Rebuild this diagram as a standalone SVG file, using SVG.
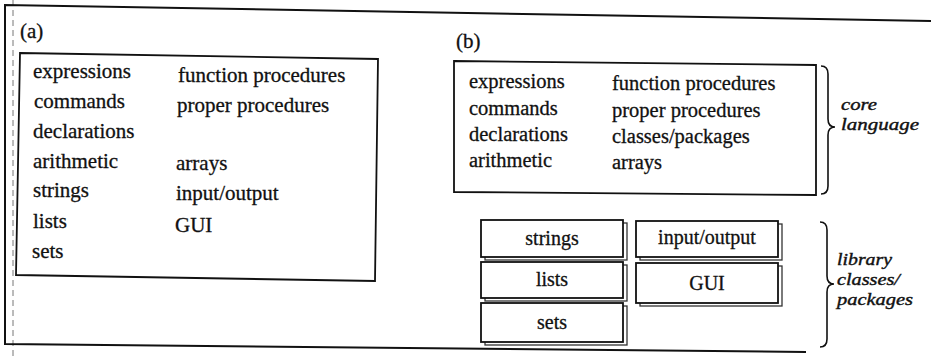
<svg xmlns="http://www.w3.org/2000/svg" width="931" height="360" viewBox="0 0 931 360">
<style>
.t{font-family:"Liberation Serif","DejaVu Serif",serif;font-size:21px;fill:#111;stroke:#111;stroke-width:0.3}
.tb{font-family:"Liberation Serif","DejaVu Serif",serif;font-size:20.5px;fill:#111;stroke:#111;stroke-width:0.3}
.lb{font-family:"Liberation Serif","DejaVu Serif",serif;font-size:20px;fill:#111;stroke:#111;stroke-width:0.3;text-anchor:middle}
.it{font-family:"Liberation Serif","DejaVu Serif",serif;font-size:17.5px;font-style:italic;fill:#111;stroke:#111;stroke-width:0.4}
.frame{fill:none;stroke:#111;stroke-width:2}
.box{fill:#fff;stroke:#111;stroke-width:1.8}
.sh{fill:#fff;stroke:#333;stroke-width:1.3}
.brace{fill:none;stroke:#111;stroke-width:1.6}
</style>
<rect width="931" height="360" fill="#fff"/>
<g id="frame">
<line x1="13" y1="0" x2="13" y2="360" stroke="#777" stroke-width="1" stroke-dasharray="6,4"/>
<polyline class="frame" points="931,21 5,5 5,344 806,352"/>
</g>
<g id="panel-a">
<text class="t" x="20" y="38" font-size="19">(a)</text>
<polygon class="box" points="20,53 378,59 375,281 16,275"/>
<text class="t" x="33" y="78">expressions</text>
<text class="t" x="34" y="108">commands</text>
<text class="t" x="33" y="138">declarations</text>
<text class="t" x="33" y="168">arithmetic</text>
<text class="t" x="33" y="197">strings</text>
<text class="t" x="33" y="228">lists</text>
<text class="t" x="32" y="258">sets</text>
<text class="t" x="178" y="82">function procedures</text>
<text class="t" x="177" y="112">proper procedures</text>
<text class="t" x="176" y="170">arrays</text>
<text class="t" x="176" y="200">input/output</text>
<text class="t" x="175" y="232">GUI</text>
</g>
<g id="panel-b">
<text class="t" x="456" y="48" font-size="19">(b)</text>
</g>
<g id="core">
<polygon class="box" points="454,61 816,65 816,195 454,192"/>
<text class="tb" x="469" y="88">expressions</text>
<text class="tb" x="469" y="115">commands</text>
<text class="tb" x="469" y="141">declarations</text>
<text class="tb" x="469" y="167">arithmetic</text>
<text class="tb" x="612" y="90">function procedures</text>
<text class="tb" x="612" y="117">proper procedures</text>
<text class="tb" x="612" y="143">classes/packages</text>
<text class="tb" x="612" y="169">arrays</text>
</g>
<g id="lib-strings">
<rect class="sh" x="485" y="223" width="142" height="37"/>
<rect class="box" x="481" y="220" width="142" height="37"/>
<text class="lb" x="552" y="245">strings</text>
</g>
<g id="lib-lists">
<rect class="sh" x="485" y="265" width="142" height="36"/>
<rect class="box" x="481" y="262" width="142" height="36"/>
<text class="lb" x="552" y="286">lists</text>
</g>
<g id="lib-sets">
<rect class="sh" x="485" y="306" width="142" height="39"/>
<rect class="box" x="481" y="303" width="142" height="39" stroke="#555"/>
<text class="lb" x="552" y="329">sets</text>
</g>
<g id="lib-io">
<rect class="sh" x="640" y="224" width="142" height="36"/>
<rect class="box" x="636" y="221" width="142" height="36"/>
<text class="lb" x="707" y="244">input/output</text>
</g>
<g id="lib-gui">
<rect class="sh" x="640" y="266" width="142" height="40"/>
<rect class="box" x="636" y="263" width="142" height="40"/>
<text class="lb" x="707" y="290">GUI</text>
</g>
<g id="braces">
<path class="brace" d="M821,66 Q828,66 828,74 L828,119 Q828,127 835,127 Q828,127 828,135 L828,186 Q828,194 821,194"/>
<path class="brace" d="M820,222 Q827,222 827,230 L827,276 Q827,284 834,284 Q827,284 827,292 L827,339 Q827,347 820,347"/>
</g>
<g id="labels">
<text class="it" x="841" y="110" textLength="36" lengthAdjust="spacingAndGlyphs">core</text>
<text class="it" x="841" y="130" textLength="78" lengthAdjust="spacingAndGlyphs">language</text>
<text class="it" x="837" y="265" textLength="55" lengthAdjust="spacingAndGlyphs">library</text>
<text class="it" x="837" y="285" textLength="63" lengthAdjust="spacingAndGlyphs">classes/</text>
<text class="it" x="837" y="305" textLength="76" lengthAdjust="spacingAndGlyphs">packages</text>
</g>
</svg>
